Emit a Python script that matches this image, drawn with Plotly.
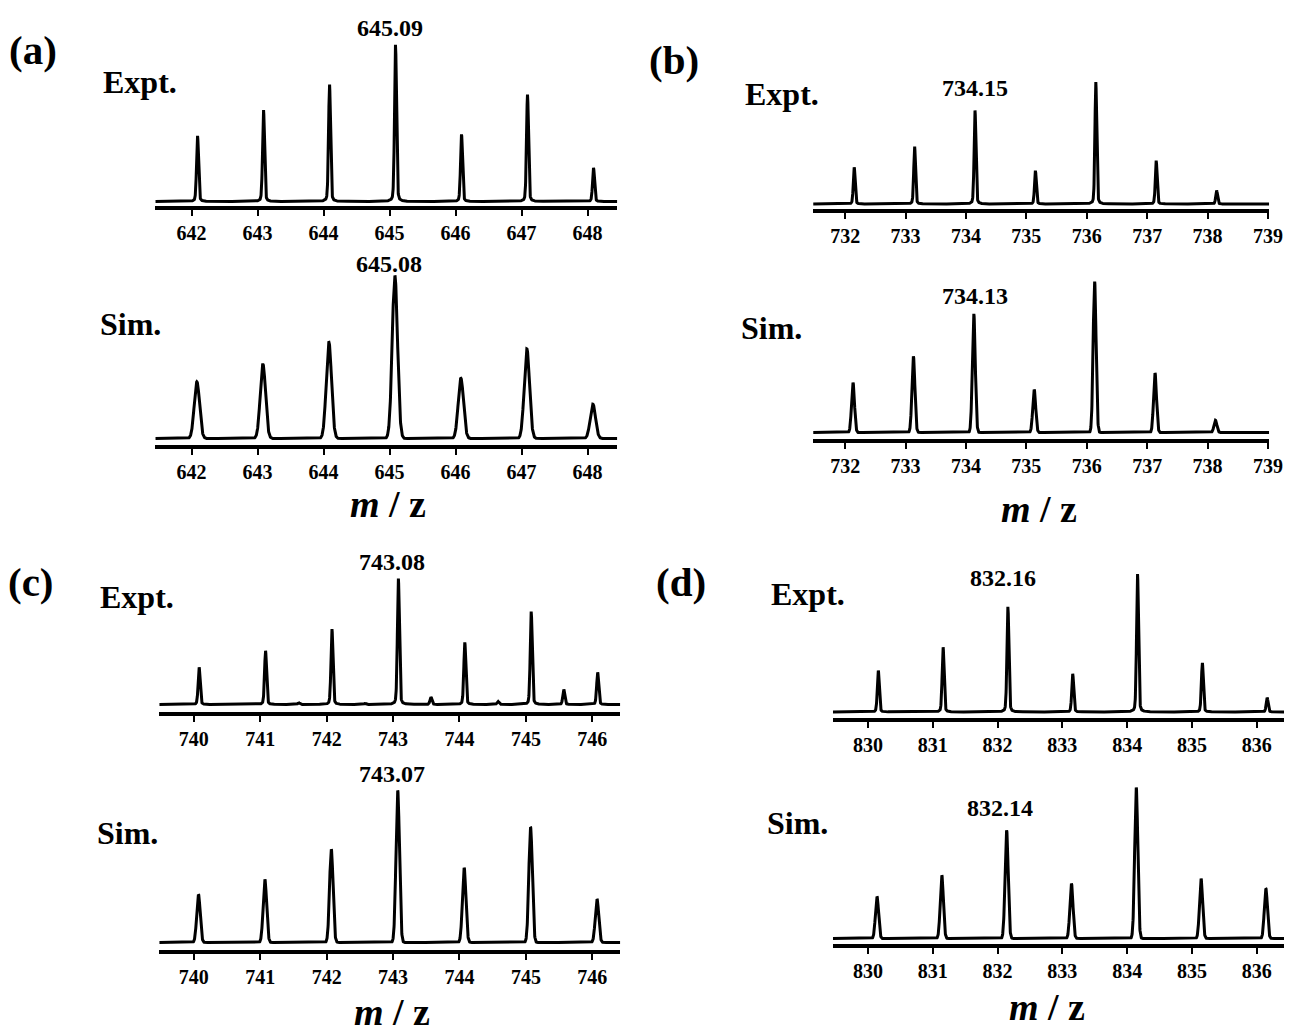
import numpy as np
import plotly.graph_objects as go

W, H = 1299, 1032

# ---------------- data (peak positions m/z and relative intensities %) ----------------
a_expt_mz = [642.09, 643.09, 644.09, 645.09, 646.09, 647.09, 648.09]
a_expt_int = [41.8, 58.2, 74.6, 100.0, 42.8, 68.2, 21.4]
a_sim_mz = [642.08, 643.08, 644.08, 645.08, 646.08, 647.08, 648.08]
a_sim_int = [34.8, 45.7, 59.0, 100.0, 36.9, 54.9, 21.1]

b_expt_mz = [732.15, 733.15, 734.15, 735.15, 736.15, 737.15, 738.15]
b_expt_int = [30.1, 47.1, 76.7, 27.4, 100.0, 35.6, 11.0]
b_sim_mz = [732.13, 733.13, 734.13, 735.13, 736.13, 737.13, 738.13]
b_sim_int = [33.0, 50.4, 78.6, 28.4, 100.0, 39.4, 8.1]

c_expt_mz = [740.08, 741.08, 741.58, 742.08, 742.58, 743.08, 743.57,
             744.08, 744.58, 745.08, 745.57, 746.08]
c_expt_int = [29.6, 42.7, 1.3, 59.9, 0.8, 100.0, 5.8, 49.3, 2.4, 73.9, 11.9, 25.6]
c_sim_mz = [740.07, 741.07, 742.07, 743.07, 744.07, 745.07, 746.07]
c_sim_int = [31.6, 41.5, 61.3, 100.0, 49.2, 75.8, 28.6]

d_expt_mz = [830.16, 831.16, 832.16, 833.16, 834.16, 835.16, 836.16]
d_expt_int = [30.1, 47.0, 76.4, 27.7, 100.0, 35.7, 10.4]
d_sim_mz = [830.14, 831.14, 832.14, 833.14, 834.14, 835.14, 836.14]
d_sim_int = [27.8, 41.9, 71.7, 36.4, 100.0, 39.7, 33.1]

a_ticks = [642, 643, 644, 645, 646, 647, 648]
b_ticks = [732, 733, 734, 735, 736, 737, 738, 739]
c_ticks = [740, 741, 742, 743, 744, 745, 746]
d_ticks = [830, 831, 832, 833, 834, 835, 836]

a_range = [641.45, 648.45]
b_range = [731.47, 739.02]
c_range = [739.48, 746.42]
d_range = [829.46, 836.42]

peak_labels = {
    "a_expt": "645.09", "a_sim": "645.08",
    "b_expt": "734.15", "b_sim": "734.13",
    "c_expt": "743.08", "c_sim": "743.07",
    "d_expt": "832.16", "d_sim": "832.14",
}

# ---------------- layout geometry (pixels) ----------------
# name, mz, int, ticks, xrange, x0px, x1px, axis_y_px, gap_px, maxheight_px, kind, width
panels = [
    ("a_expt", a_expt_mz, a_expt_int, a_ticks, a_range, 157, 624, 207, 4, 157, "expt", 0.015),
    ("a_sim", a_sim_mz, a_sim_int, a_ticks, a_range, 157, 624, 446, 6, 163, "sim", 0.040),
    ("b_expt", b_expt_mz, b_expt_int, b_ticks, b_range, 822, 1283, 210, 4.5, 122, "expt", 0.015),
    ("b_sim", b_sim_mz, b_sim_int, b_ticks, b_range, 822, 1283, 440, 6, 151, "sim", 0.024),
    ("c_expt", c_expt_mz, c_expt_int, c_ticks, c_range, 161, 627, 713, 7, 126, "expt", 0.015),
    ("c_sim", c_sim_mz, c_sim_int, c_ticks, c_range, 161, 627, 951, 7, 152, "sim", 0.026),
    ("d_expt", d_expt_mz, d_expt_int, d_ticks, d_range, 842, 1298, 719, 5.5, 138, "expt", 0.015),
    ("d_sim", d_sim_mz, d_sim_int, d_ticks, d_range, 842, 1298, 945, 5, 151, "sim", 0.024),
]


def profile(x, mz, inten, kind, w):
    y = np.zeros_like(x)
    for c, h in zip(mz, inten):
        d = x - c
        if kind == "expt":
            g = np.exp(-0.5 * (d / w) ** 2)
            lo = 1.0 / (1.0 + (d / (w * 1.1)) ** 2)
            y += h * (0.75 * g + 0.25 * lo)
        else:
            y += h * np.exp(-0.5 * (d / w) ** 2)
    return y


SERIF = "Liberation Serif"
fig = go.Figure()
layout = dict(
    width=W, height=H, margin=dict(l=0, r=0, t=0, b=0, pad=0),
    paper_bgcolor="white", plot_bgcolor="rgba(0,0,0,0)", showlegend=False,
)

for i, (name, mz, inten, ticks, xr, x0, x1, ay, gap, hmax, kind, w) in enumerate(panels):
    idx = "" if i == 0 else str(i + 1)
    x = np.linspace(xr[0], xr[1], 3500)
    y = profile(x, mz, inten, kind, w)
    fig.add_trace(go.Scatter(
        x=x, y=y, mode="lines", line=dict(color="black", width=3),
        xaxis="x" + idx, yaxis="y" + idx, hoverinfo="skip",
    ))
    bottom_px = ay - 1.5
    top_px = bottom_px - (gap + hmax + 12)
    s = hmax / 100.0
    ymin = -gap / s
    ymax = ymin + (bottom_px - top_px) / s
    layout["xaxis" + idx] = dict(
        domain=[x0 / W, x1 / W], range=xr, anchor="y" + idx,
        showline=True, linewidth=3.5, linecolor="black", mirror=False,
        ticks="outside", ticklen=7, tickwidth=2, tickcolor="black",
        tickvals=ticks, ticktext=[str(t) for t in ticks],
        tickfont=dict(family=SERIF, size=20, color="black", weight="bold"),
        showgrid=False, zeroline=False, fixedrange=True,
    )
    layout["yaxis" + idx] = dict(
        domain=[1 - bottom_px / H, 1 - top_px / H], range=[ymin, ymax],
        anchor="x" + idx, visible=False, showgrid=False, zeroline=False, fixedrange=True,
    )

fig.update_layout(**layout)


def txt(s, x, y, size, xanchor="center"):
    fig.add_annotation(
        text=s, x=x / W, y=1 - y / H, xref="paper", yref="paper",
        xanchor=xanchor, yanchor="middle", showarrow=False, borderpad=0,
        font=dict(family=SERIF, size=size, color="black", weight="bold"),
    )


# panel letters
txt("(a)", 33, 50, 41)
txt("(b)", 681, 60, 41)
txt("(c)", 31, 582, 41)
txt("(d)", 688, 582, 41)

# Expt./Sim. labels
txt("Expt.", 103, 82, 32, "left")
txt("Sim.", 100, 324, 32, "left")
txt("Expt.", 752, 94, 32, "left")
txt("Sim.", 748, 328, 32, "left")
txt("Expt.", 100, 597, 32, "left")
txt("Sim.", 97, 833, 32, "left")
txt("Expt.", 778, 594, 32, "left")
txt("Sim.", 774, 823, 32, "left")

# peak labels
txt(peak_labels["a_expt"], 394, 28, 24)
txt(peak_labels["a_sim"], 393, 264, 24)
txt(peak_labels["b_expt"], 986, 88, 24)
txt(peak_labels["b_sim"], 986, 296, 24)
txt(peak_labels["c_expt"], 396, 562, 24)
txt(peak_labels["c_sim"], 396, 774, 24)
txt(peak_labels["d_expt"], 1014, 578, 24)
txt(peak_labels["d_sim"], 1011, 808, 24)

# m / z axis titles
mz_title = "<i>m</i> / z"
txt(mz_title, 392, 504, 38)
txt(mz_title, 1050, 509, 38)
txt(mz_title, 396, 1012, 38)
txt(mz_title, 1058, 1007, 38)

fig.write_html(
    "out.html",
    config={"displayModeBar": False},
    post_script="document.body.style.margin='0';document.body.style.padding='0';",
)
